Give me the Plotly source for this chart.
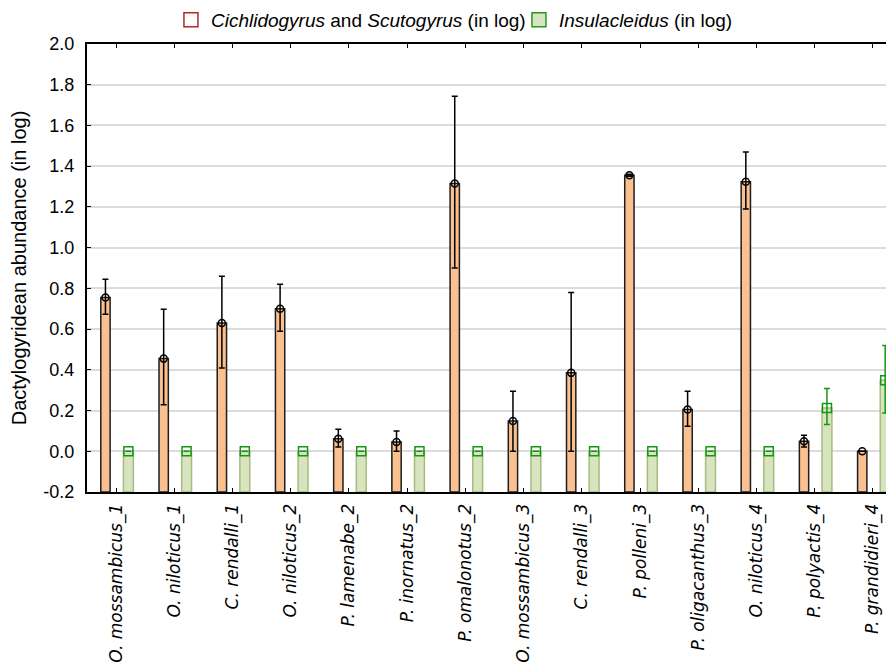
import plotly.graph_objects as go

categories = ["O. mossambicus_1", "O. niloticus_1", "C. rendalli_1", "O. niloticus_2",
              "P. lamenabe_2", "P. inornatus_2", "P. omalonotus_2", "O. mossambicus_3",
              "C. rendalli_3", "P. polleni_3", "P. oligacanthus_3", "O. niloticus_4",
              "P. polyactis_4", "P. grandidieri_4"]

cich_mean = [0.755, 0.455, 0.63, 0.70, 0.062, 0.046, 1.315, 0.149, 0.385, 1.355, 0.205, 1.323, 0.049, 0.0]
cich_upper = [0.845, 0.697, 0.86, 0.82, 0.108, 0.100, 1.744, 0.295, 0.78, 1.36, 0.295, 1.47, 0.079, 0.0]
cich_lower = [0.673, 0.229, 0.409, 0.59, 0.021, 0.0, 0.90, 0.0, 0.0, 1.35, 0.123, 1.19, 0.021, 0.0]

insu_mean = [0, 0, 0, 0, 0, 0, 0, 0, 0, 0, 0, 0, 0.213, 0.349]
insu_upper = [0, 0, 0, 0, 0, 0, 0, 0, 0, 0, 0, 0, 0.308, 0.519]
insu_lower = [0, 0, 0, 0, 0, 0, 0, 0, 0, 0, 0, 0, 0.131, 0.188]

Y_MIN, Y_MAX = -0.2, 2.0
ytick_vals = [round(-0.2 + 0.2 * k, 1) for k in range(12)]

idx = list(range(len(categories)))
OR_OFF, OR_W = -0.263, 0.16
GR_OFF, GR_W = 0.126, 0.17

fig = go.Figure()

fig.add_trace(go.Bar(
    x=idx, y=[v - Y_MIN for v in cich_mean], base=Y_MIN,
    offset=OR_OFF, width=OR_W,
    marker=dict(color="rgb(250,192,144)", line=dict(color="rgb(30,30,30)", width=1.5)),
    showlegend=False, hoverinfo="skip"))

fig.add_trace(go.Bar(
    x=idx, y=[v - Y_MIN for v in insu_mean], base=Y_MIN,
    offset=GR_OFF, width=GR_W,
    marker=dict(color="rgb(216,228,190)", line=dict(color="rgb(165,188,128)", width=1.5)),
    showlegend=False, hoverinfo="skip"))

fig.add_trace(go.Scatter(
    x=[i + OR_OFF + OR_W / 2 for i in idx], y=cich_mean, mode="markers",
    marker=dict(symbol="circle-open", size=7, color="black", line=dict(width=1.5)),
    error_y=dict(type="data", symmetric=False,
                 array=[u - m for u, m in zip(cich_upper, cich_mean)],
                 arrayminus=[m - l for m, l in zip(cich_mean, cich_lower)],
                 color="black", thickness=1.5, width=3),
    showlegend=False))

fig.add_trace(go.Scatter(
    x=[i + GR_OFF + GR_W / 2 for i in idx], y=insu_mean, mode="markers",
    marker=dict(symbol="square-open", size=9, color="rgb(20,150,20)", line=dict(width=1.5)),
    error_y=dict(type="data", symmetric=False,
                 array=[u - m for u, m in zip(insu_upper, insu_mean)],
                 arrayminus=[m - l for m, l in zip(insu_mean, insu_lower)],
                 color="rgb(20,150,20)", thickness=1.5, width=3),
    showlegend=False))

# legend entries
fig.add_trace(go.Scatter(
    x=[None], y=[None], mode="markers",
    name="<i>Cichlidogyrus</i> and <i>Scutogyrus</i> (in log)",
    marker=dict(symbol="square", size=14, color="white", line=dict(color="rgb(175,40,40)", width=1.5))))
fig.add_trace(go.Scatter(
    x=[None], y=[None], mode="markers",
    name="<i>Insulacleidus</i> (in log)",
    marker=dict(symbol="square", size=14, color="rgb(216,228,190)", line=dict(color="rgb(40,150,40)", width=1.5))))

fig.update_layout(
    width=894, height=659,
    margin=dict(l=79, r=0, t=36, b=175, autoexpand=False),
    plot_bgcolor="white", paper_bgcolor="white",
    font=dict(family="Liberation Sans, Arial", size=18, color="black"),
    legend=dict(orientation="h", x=0.103, xanchor="left", y=1.054, yanchor="middle",
                font=dict(size=19), itemwidth=30, tracegroupgap=0, entrywidth=303,
                bgcolor="rgba(0,0,0,0)"),
    xaxis=dict(range=[-0.5, 13.5], tickmode="array", tickvals=idx, ticktext=categories,
               tickangle=-90, ticks="inside", ticklen=4, tickcolor="black",
               showline=True, linecolor="black", linewidth=2, mirror="ticks",
               showgrid=False, zeroline=False, automargin=False, ticklabelstandoff=3,
               tickfont=dict(family="DejaVu Sans", size=17, style="italic", color="black")),
    yaxis=dict(range=[Y_MIN, Y_MAX], tickmode="array", tickvals=ytick_vals,
               ticktext=[f"{v:.1f}" for v in ytick_vals],
               ticks="inside", ticklen=4, tickcolor="black",
               showline=True, linecolor="black", linewidth=2,
               showgrid=True, gridcolor="rgb(220,220,220)", gridwidth=2, zeroline=False,
               automargin=False, ticklabelstandoff=7,
               title=dict(text="Dactylogyridean abundance (in log)", font=dict(size=20)),
               tickfont=dict(size=18)),
)

fig.write_html("out.html")
